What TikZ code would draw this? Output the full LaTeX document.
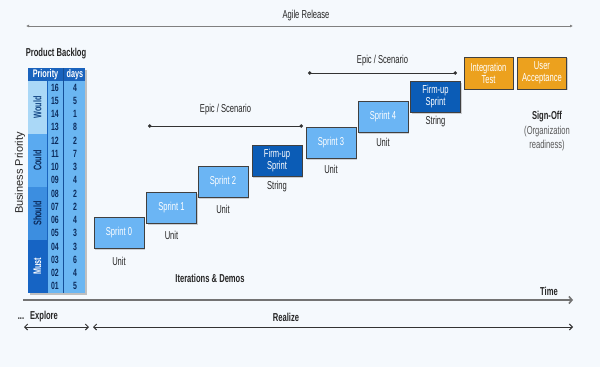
\documentclass[tikz,border=0pt]{standalone}
\usepackage{fontspec}
\setmainfont{Liberation Sans}[FakeStretch=0.66]
\newfontfamily\widefont{Liberation Sans}
\usetikzlibrary{positioning,arrows.meta,shadows}

\definecolor{bgcol}{HTML}{F5F9FD}
\definecolor{sprintblue}{HTML}{6BB5F4}
\definecolor{firmblue}{HTML}{0B5CB6}
\definecolor{orangebox}{HTML}{ECA11E}
\definecolor{hdrblue}{HTML}{1A63BD}
\definecolor{wouldblue}{HTML}{AAD8F7}
\definecolor{couldblue}{HTML}{5AAAF0}
\definecolor{shouldblue}{HTML}{3C8EE0}
\definecolor{mustblue}{HTML}{1664C4}
\definecolor{numblue}{HTML}{6AB6F2}
\definecolor{navy}{HTML}{0C2B5C}

\begin{document}
\begin{tikzpicture} [x=1pt, y=-1pt, node distance=5pt,
  sprint/.style={rectangle, draw=black!75, line width=0.8pt, fill=sprintblue, text=white, align=center, minimum width=50pt, minimum height=31pt, inner sep=1pt, font=\fontsize{11.5}{12}\selectfont, drop shadow={shadow xshift=1.2pt, shadow yshift=-1.2pt, opacity=0.35}},
  firmup/.style={sprint, fill=firmblue},
  final/.style={sprint, fill=orangebox, minimum width=49pt, minimum height=32pt},
  lbl/.style={font=\fontsize{11.5}{13}\selectfont, text=black!85, align=center},
  bold/.style={lbl, font=\fontsize{11.5}{13}\selectfont\bfseries},
  num/.style={font=\fontsize{10.5}{11}\selectfont\bfseries, text=navy, inner sep=0pt},
  cat/.style={font=\fontsize{11}{12}\selectfont\bfseries, rotate=90, inner sep=0pt},
  epic/.style={black!80, line width=0.9pt, {Circle[length=3.5pt]}-{Circle[length=3.5pt]}},
  span/.style={black!80, line width=1pt, {Straight Barb[length=3pt,width=6pt]}-{Straight Barb[length=3pt,width=6pt]}}]
  % background and page size
  \fill[bgcol] (0,0) rectangle (600,367);

  %% Agile release
  \coordinate (r0) at (26,26);
  \coordinate (r1) at (573,26);
  \draw[black!50, line width=0.8pt, {Latex[length=3pt,width=3pt]}-{Latex[length=3pt,width=3pt]}] (r0) -- (r1);
  \node[lbl] (release) at (306,16) {Agile Release};

  %% Product backlog table
  \node[bold] (backlog) at (56,54) {Product Backlog};
  \fill[black!25] (30,70) rectangle (87,295);
  \fill[hdrblue] (28,68) rectangle (85,81);
  \fill[numblue] (47,81) rectangle (85,293);
  \fill[wouldblue] (28,81) rectangle (47,134);
  \fill[couldblue] (28,134) rectangle (47,187);
  \fill[shouldblue] (28,187) rectangle (47,240);
  \fill[mustblue] (28,240) rectangle (47,293);
  \draw[hdrblue!80!black, line width=0.6pt] (63,68) -- (63,293);
  \draw[hdrblue, line width=0.5pt] (47,81) -- (47,293);
  \node[font=\fontsize{11}{12}\selectfont\bfseries, text=white] (hprio) at (45.5,74.5) {Priority};
  \node[font=\fontsize{11}{12}\selectfont\bfseries, text=white] (hdays) at (75,74.5) {days};
  \node[cat, text=hdrblue!70!black] (would) at (37.5,107.5) {Would};
  \node[cat, text=navy] (could) at (37.5,160.5) {Could};
  \node[cat, text=navy] (should) at (37.5,213.5) {Should};
  \node[cat, text=white] (must) at (37.5,266.5) {Must};
  \foreach \p/\d [count=\k from 0] in {16/4,15/5,14/1,13/8,12/2,11/7,10/3,09/4,08/2,07/2,06/4,05/3,04/3,03/6,02/4,01/5} {
    \node[num] (p\p) at (55,87.6+13.25*\k) {\p};
    \node[num] (d\p) at (75,87.6+13.25*\k) {\d};
  }
  \node[lbl, rotate=90, font=\fontsize{11}{12}\widefont] (bizprio) at (20,173) {Business Priority};

  %% Sprints
  \node[sprint] (s0) at (119,233) {Sprint 0};
  \node[sprint] (s1) at (171.5,208) {Sprint 1};
  \node[sprint] (s2) at (223,182) {Sprint 2};
  \node[firmup] (f1) at (277,161) {Firm-up\\Sprint};
  \node[sprint] (s3) at (331,143) {Sprint 3};
  \node[sprint] (s4) at (383,117) {Sprint 4};
  \node[firmup] (f2) at (435.5,97) {Firm-up\\Sprint};
  \node[final] (itest) at (488.5,73) {Integration\\Test};
  \node[final] (uat) at (542,73) {User\\Acceptance};
  % labels under the boxes
  \node[lbl, below=5pt of s0] (u0) {Unit};
  \node[lbl, below=4pt of s1] (u1) {Unit};
  \node[lbl, below=4pt of s2] (u2) {Unit};
  \node[lbl, below=1pt of f1] (str1) {String};
  \node[lbl, below=3pt of s3] (u3) {Unit};
  \node[lbl, below=2pt of s4] (u4) {Unit};
  \node[lbl, below=0pt of f2] (str2) {String};
  \node[bold] (signoff) at (547,117) {Sign-Off};
  \node[lbl, text=black!65, below=-3pt of signoff, font=\fontsize{11.5}{14}\selectfont] (ready) {(Organization\\readiness)};
  \node[bold] (iter) at (210,278) {Iterations \& Demos};

  %% Epics
  \coordinate (e1a) at (148,126);
  \coordinate (e1b) at (303,126);
  \draw[epic] (e1a) -- node[lbl, above=7pt] (epic1) {Epic / Scenario} (e1b);
  \coordinate (e2a) at (308,73);
  \coordinate (e2b) at (457,73);
  \draw[epic] (e2a) -- node[lbl, above=3pt] (epic2) {Epic / Scenario} (e2b);

  %% Time axis
  \coordinate (t0) at (23,300);
  \coordinate (t1) at (573,300);
  \draw[black!55, line width=1.6pt, -{Straight Barb[length=3pt,width=7pt]}] (t0) -- (t1);
  \node[bold] (time) at (549,291) {Time};

  %% Explore / Realize
  \coordinate (x0) at (24,327);
  \coordinate (x1) at (89,327);
  \coordinate (x2) at (93,327);
  \coordinate (x3) at (573,327);
  \draw[span] (x0) -- (x1);
  \draw[span] (x2) -- (x3);
  \node[bold] (dots) at (21,319) {...};
  \node[bold] (explore) at (44,317) {Explore};
  \node[bold] (realize) at (286,317) {Realize};
\end{tikzpicture}
\end{document}
